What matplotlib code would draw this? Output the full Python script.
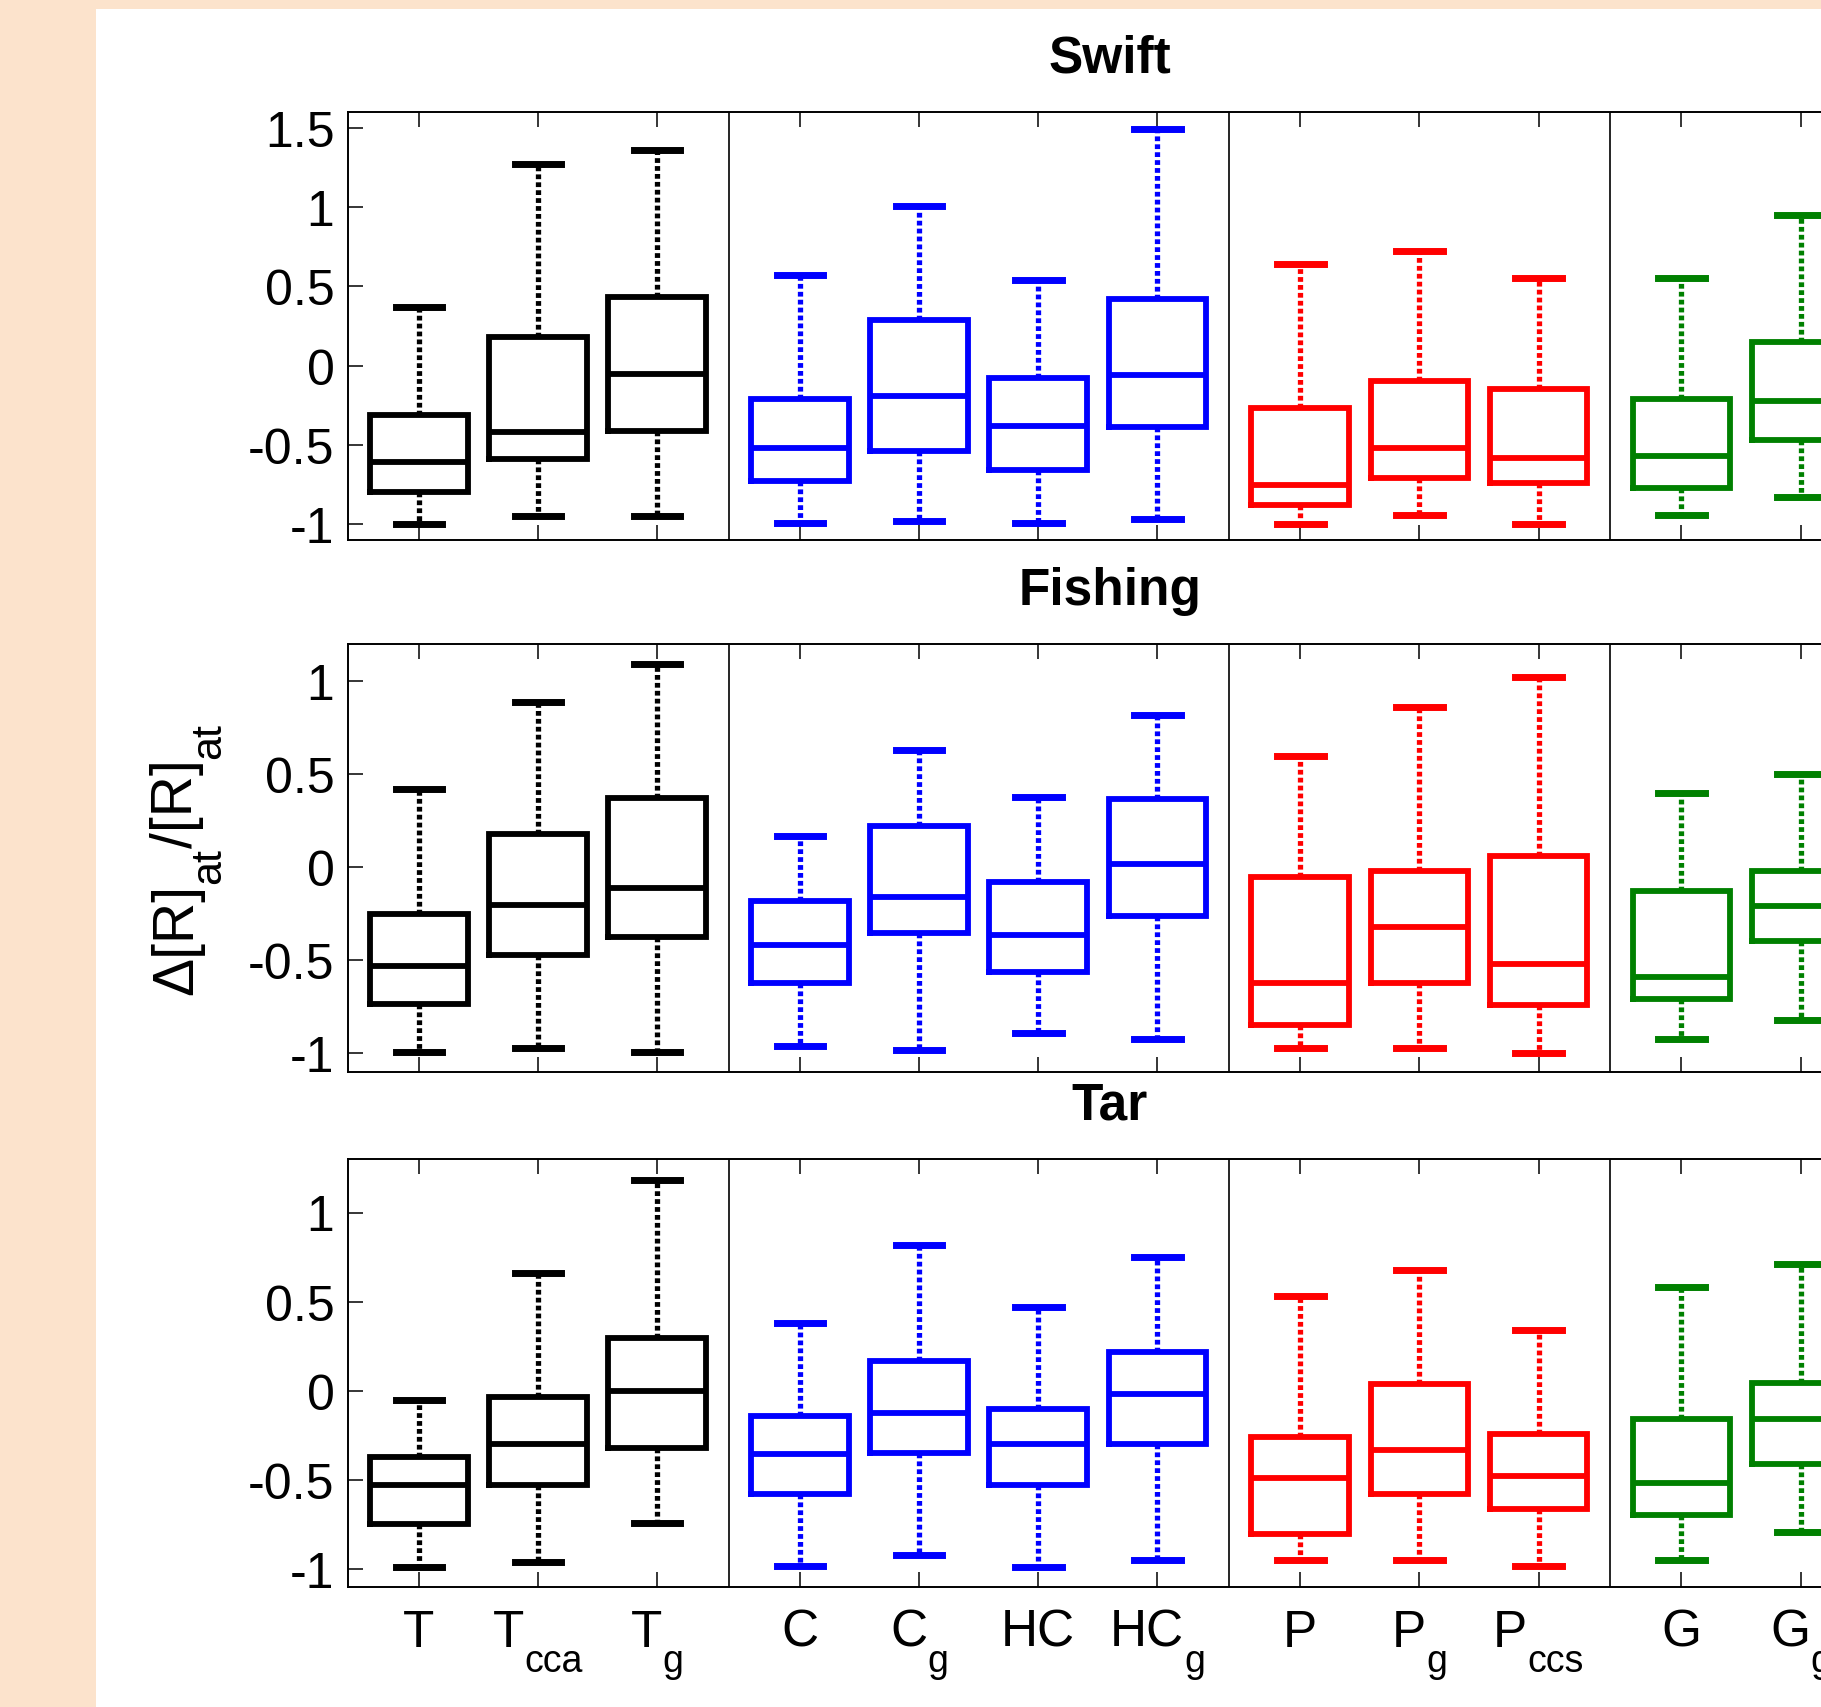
import numpy as np
import matplotlib
matplotlib.use('Agg')
import matplotlib.pyplot as plt
from matplotlib.patches import Rectangle
from matplotlib.transforms import IdentityTransform

plt.rcParams['font.family'] = ['Liberation Sans', 'DejaVu Sans']
plt.rcParams['axes.unicode_minus'] = False

# categories
base_names = ['T', 'T', 'T', 'C', 'C', 'HC', 'HC', 'P', 'P', 'P', 'G', 'G']
sub_names = ['', 'cca', 'g', '', 'g', '', 'g', '', 'g', 'ccs', '', 'g']
group_sizes = [3, 4, 3, 2]
group_colors = ['#000000', '#0000ff', '#ff0000', '#008000']

# Swift
swift_hi = [0.37, 1.27, 1.36, 0.57, 1.01, 0.54, 1.49, 0.64, 0.72, 0.55, 0.55, 0.95]
swift_q3 = [-0.31, 0.18, 0.43, -0.21, 0.29, -0.08, 0.42, -0.27, -0.10, -0.15, -0.21, 0.15]
swift_med = [-0.61, -0.42, -0.05, -0.52, -0.19, -0.38, -0.06, -0.75, -0.52, -0.58, -0.57, -0.22]
swift_q1 = [-0.80, -0.59, -0.41, -0.73, -0.54, -0.66, -0.39, -0.88, -0.71, -0.74, -0.77, -0.47]
swift_lo = [-1.00, -0.95, -0.95, -0.99, -0.98, -0.99, -0.97, -1.00, -0.94, -1.00, -0.94, -0.83]

# Fishing
fishing_hi = [0.42, 0.89, 1.09, 0.17, 0.63, 0.38, 0.82, 0.60, 0.86, 1.02, 0.40, 0.50]
fishing_q3 = [-0.25, 0.18, 0.37, -0.18, 0.22, -0.08, 0.365, -0.05, -0.02, 0.06, -0.13, -0.02]
fishing_med = [-0.53, -0.20, -0.11, -0.42, -0.16, -0.365, 0.02, -0.62, -0.32, -0.52, -0.59, -0.21]
fishing_q1 = [-0.735, -0.47, -0.375, -0.62, -0.355, -0.565, -0.26, -0.845, -0.62, -0.74, -0.71, -0.395]
fishing_lo = [-0.99, -0.97, -0.99, -0.96, -0.98, -0.89, -0.92, -0.97, -0.97, -1.00, -0.92, -0.82]

# Tar
tar_hi = [-0.05, 0.66, 1.18, 0.38, 0.82, 0.47, 0.75, 0.53, 0.68, 0.34, 0.585, 0.71]
tar_q3 = [-0.37, -0.035, 0.295, -0.14, 0.17, -0.10, 0.22, -0.26, 0.04, -0.24, -0.16, 0.045]
tar_med = [-0.53, -0.30, 0.0, -0.355, -0.125, -0.30, -0.015, -0.49, -0.33, -0.48, -0.515, -0.16]
tar_q1 = [-0.745, -0.53, -0.32, -0.58, -0.35, -0.53, -0.30, -0.80, -0.58, -0.665, -0.695, -0.41]
tar_lo = [-0.99, -0.96, -0.74, -0.98, -0.92, -0.99, -0.95, -0.95, -0.95, -0.98, -0.95, -0.79]

panels = [
    ('Swift', swift_lo, swift_q1, swift_med, swift_q3, swift_hi, (-1.1, 1.6), [-1, -0.5, 0, 0.5, 1, 1.5]),
    ('Fishing', fishing_lo, fishing_q1, fishing_med, fishing_q3, fishing_hi, (-1.1, 1.2), [-1, -0.5, 0, 0.5, 1]),
    ('Tar', tar_lo, tar_q1, tar_med, tar_q3, tar_hi, (-1.1, 1.3), [-1, -0.5, 0, 0.5, 1]),
]

W, H = 1821, 1708
fig = plt.figure(figsize=(W / 100, H / 100), dpi=100)
fig.patch.set_facecolor('#fce3cc')
fig.add_artist(Rectangle((96 / W, 0), (W - 96) / W, (H - 10) / H, transform=fig.transFigure,
                         facecolor='white', edgecolor='none', zorder=-10))

# box positions: groups separated by an extra gap
positions, colors, seps = [], [], []
p = 1.0
for gi, n in enumerate(group_sizes):
    for k in range(n):
        positions.append(p)
        colors.append(group_colors[gi])
        p += 1
    p += 0.2
    if gi < len(group_sizes) - 1:
        seps.append(p - 0.6)

x0_px, x1_px = 347.5, 1872
rows_px = [(113, 541), (645, 1073), (1160, 1588)]

axes = []
for (title, lo, q1, med, q3, hi, ylim, yt), (top, bot) in zip(panels, rows_px):
    ax = fig.add_axes([x0_px / W, (H - bot) / H, (x1_px - x0_px) / W, (bot - top) / H])
    axes.append(ax)
    for sx in seps:
        ax.axvline(sx, color='k', lw=1.2, zorder=1)
    for i in range(len(positions)):
        st = dict(med=med[i], q1=q1[i], q3=q3[i], whislo=lo[i], whishi=hi[i], fliers=[])
        c = colors[i]
        ax.bxp([st], positions=[positions[i]], widths=0.82, capwidths=0.39,
               showfliers=False, manage_ticks=False,
               boxprops=dict(color=c, lw=4.2, solid_joinstyle='miter'),
               medianprops=dict(color=c, lw=4.2),
               whiskerprops=dict(color=c, lw=3.8, linestyle=(0, (0.9, 0.6))),
               capprops=dict(color=c, lw=5.0))
    ax.set_xlim(positions[0] - 0.6, positions[-1] + 0.6)
    ax.set_ylim(*ylim)
    ax.set_yticks(yt)
    ax.set_yticklabels(['%g' % v for v in yt])
    ax.set_xticks(positions)
    ax.set_xticklabels([])
    ax.tick_params(axis='x', direction='in', top=True, bottom=True, length=11, width=1.1)
    ax.tick_params(axis='y', direction='in', left=True, right=False, length=11, width=1.1,
                   labelsize=36, pad=9.4)
    for s in ax.spines.values():
        s.set_linewidth(1.4)
    ax.set_title(title, fontsize=37, fontweight='bold', pad=28.8)


def draw_parts(x, y, parts, rot=0):
    # parts: (text, fontsize, drop in px); (x, y) is the centre of the run on the main baseline
    r = fig.canvas.get_renderer()
    objs, widths = [], []
    for s, fs, drop in parts:
        t = fig.text(0, 0, s, fontsize=fs, transform=IdentityTransform(),
                     ha='left', va='baseline', rotation_mode='anchor')
        widths.append(t.get_window_extent(r).width)
        t.set_rotation(rot)
        objs.append(t)
    a = np.deg2rad(rot)
    ux, uy = np.cos(a), np.sin(a)
    dx, dy = np.sin(a), -np.cos(a)
    s0 = -sum(widths) / 2
    for t, w, (s, fs, drop) in zip(objs, widths, parts):
        t.set_position((x + s0 * ux + drop * dx, y + s0 * uy + drop * dy))
        s0 += w


fig.canvas.draw()
axb = axes[-1]
for pos, b, sb in zip(positions, base_names, sub_names):
    xp = axb.transData.transform((pos, 0))[0]
    parts = [(b, 37, 0)]
    if sb:
        parts.append((sb, 27, 25))
    draw_parts(xp, H - 1647, parts)

# y label on the middle panel
ym = H - (rows_px[1][0] + rows_px[1][1]) / 2
draw_parts(192, ym, [('\u0394[R]', 41, 0), ('at', 31, 28), ('/[R]', 41, 0), ('at', 31, 28)], rot=90)

fig.savefig('out.png', dpi=100)
